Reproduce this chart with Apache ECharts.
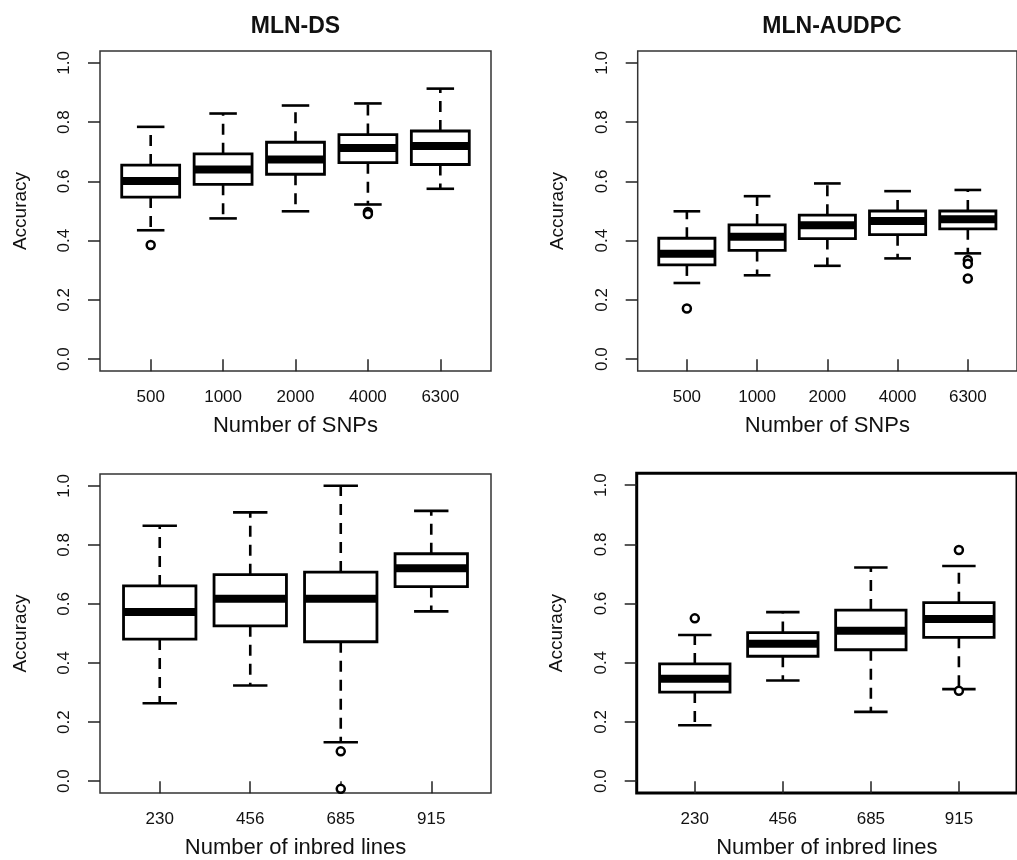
<!DOCTYPE html>
<html>
<head>
<meta charset="utf-8">
<script src="https://cdn.jsdelivr.net/npm/echarts@6.0.0/dist/echarts.min.js"></script>
<style>
html,body{margin:0;padding:0;background:#fff;}
#chart{width:1017px;height:860px;}
</style>
</head>
<body>
<div id="chart"></div>
<script>
// ---- data ----
const snpCats = ['500', '1000', '2000', '4000', '6300'];
const lineCats = ['230', '456', '685', '915'];
const yTicks = [0, 0.2, 0.4, 0.6, 0.8, 1.0];
// each box: [lower whisker, Q1, median, Q3, upper whisker]
const dsSnpStats = [
  [0.435, 0.547, 0.601, 0.655, 0.784],
  [0.475, 0.590, 0.640, 0.693, 0.829],
  [0.499, 0.624, 0.674, 0.732, 0.856],
  [0.522, 0.663, 0.713, 0.758, 0.863],
  [0.575, 0.657, 0.719, 0.770, 0.913]
];
const dsSnpOutliers = [[1, 0.385], [4, 0.497], [4, 0.490]];
const audpcSnpStats = [
  [0.257, 0.318, 0.356, 0.408, 0.499],
  [0.283, 0.367, 0.413, 0.453, 0.550],
  [0.315, 0.407, 0.452, 0.486, 0.593],
  [0.340, 0.420, 0.466, 0.500, 0.567],
  [0.357, 0.440, 0.472, 0.500, 0.571]
];
const audpcSnpOutliers = [[1, 0.171], [5, 0.335], [5, 0.322], [5, 0.272]];
const dsLineStats = [
  [0.264, 0.481, 0.573, 0.661, 0.865],
  [0.324, 0.526, 0.618, 0.699, 0.910],
  [0.132, 0.472, 0.618, 0.708, 1.000],
  [0.575, 0.659, 0.721, 0.770, 0.915]
];
const dsLineOutliers = [[3, 0.101], [3, -0.026]];
const audpcLineStats = [
  [0.189, 0.301, 0.346, 0.396, 0.494],
  [0.340, 0.422, 0.464, 0.502, 0.571],
  [0.234, 0.444, 0.508, 0.578, 0.722],
  [0.311, 0.486, 0.548, 0.603, 0.727]
];
const audpcLineOutliers = [[1, 0.550], [4, 0.781], [4, 0.305]];

const panelTitles = ['MLN-DS', 'MLN-AUDPC'];
const xTitles = ['Number of SNPs', 'Number of inbred lines'];
const yTitle = 'Accuracy';

// ---- layout ----
const FONT = 'Liberation Sans, Arial, sans-serif';
const INK = '#111';
const panels = [
  {grid: {left: 100, top: 51, width: 391, height: 320}, border: 1.5, bc: '#333', cats: snpCats, stats: dsSnpStats, out: dsSnpOutliers, xName: xTitles[0]},
  {grid: {left: 637.7, top: 51, width: 391, height: 320}, border: 1.5, bc: '#333', cats: snpCats, stats: audpcSnpStats, out: audpcSnpOutliers, xName: xTitles[0]},
  {grid: {left: 100, top: 474, width: 391, height: 321}, border: 1.5, bc: '#333', cats: lineCats, stats: dsLineStats, out: dsLineOutliers, xName: xTitles[1]},
  {grid: {left: 636.7, top: 473.3, width: 392, height: 321.7}, border: 3, bc: '#000', cats: lineCats, stats: audpcLineStats, out: audpcLineOutliers, xName: xTitles[1]}
];

const BOX_HALF = 0.4, STAPLE_HALF = 0.19;

function renderBox(params, api) {
  const x = api.value(0);
  const lo = api.value(1), q1 = api.value(2), med = api.value(3), q3 = api.value(4), hi = api.value(5);
  const tl = api.coord([x - BOX_HALF, q3]);
  const br = api.coord([x + BOX_HALF, q1]);
  const mL = api.coord([x - BOX_HALF, med]);
  const mR = api.coord([x + BOX_HALF, med]);
  const c3 = api.coord([x, q3]), cHi = api.coord([x, hi]);
  const c1 = api.coord([x, q1]), cLo = api.coord([x, lo]);
  const sHiL = api.coord([x - STAPLE_HALF, hi]), sHiR = api.coord([x + STAPLE_HALF, hi]);
  const sLoL = api.coord([x - STAPLE_HALF, lo]), sLoR = api.coord([x + STAPLE_HALF, lo]);
  const dashStyle = {stroke: '#000', lineWidth: 2.6, lineDash: [11, 8], fill: null};
  const solid = {stroke: '#000', lineWidth: 2.6, fill: null};
  return {
    type: 'group',
    children: [
      {type: 'line', shape: {x1: c3[0], y1: c3[1], x2: cHi[0], y2: cHi[1]}, style: dashStyle},
      {type: 'line', shape: {x1: c1[0], y1: c1[1], x2: cLo[0], y2: cLo[1]}, style: dashStyle},
      {type: 'line', shape: {x1: sHiL[0], y1: sHiL[1], x2: sHiR[0], y2: sHiR[1]}, style: solid},
      {type: 'line', shape: {x1: sLoL[0], y1: sLoL[1], x2: sLoR[0], y2: sLoR[1]}, style: solid},
      {type: 'rect', shape: {x: tl[0], y: tl[1], width: br[0] - tl[0], height: br[1] - tl[1]},
        style: {fill: '#fff', stroke: '#000', lineWidth: 2.8}},
      {type: 'line', shape: {x1: mL[0], y1: mL[1], x2: mR[0], y2: mR[1]}, style: {stroke: '#000', lineWidth: 8}}
    ]
  };
}

const option = {
  backgroundColor: '#fff',
  animation: false,
  grid: [], xAxis: [], yAxis: [], series: [],
  graphic: [
    {type: 'text', x: 295.5, y: 27, style: {text: panelTitles[0], font: 'bold 23px ' + FONT, fill: INK, textAlign: 'center', textVerticalAlign: 'middle'}},
    {type: 'text', x: 832, y: 27, style: {text: panelTitles[1], font: 'bold 23px ' + FONT, fill: INK, textAlign: 'center', textVerticalAlign: 'middle'}}
  ]
};

panels.forEach((p, i) => {
  const n = p.cats.length;
  const pad = 0.04 * n;
  option.grid.push(Object.assign({show: true, borderColor: p.bc, borderWidth: p.border, backgroundColor: 'transparent', containLabel: false}, p.grid));
  const xTickVals = p.cats.map((c, k) => k + 1);
  option.xAxis.push({
    type: 'value', gridIndex: i, min: 0.5 - pad, max: n + 0.5 + pad,
    splitLine: {show: false},
    axisLine: {show: false},
    axisTick: {show: true, inside: false, length: 12, customValues: xTickVals, lineStyle: {color: '#222', width: 1.5}},
    axisLabel: {show: true, customValues: xTickVals, margin: 18, fontSize: 17, fontFamily: FONT, color: INK,
      formatter: v => p.cats[Math.round(v) - 1]},
    name: p.xName, nameLocation: 'middle', nameGap: 44,
    nameTextStyle: {fontSize: 22, fontFamily: FONT, color: INK}
  });
  option.yAxis.push({
    type: 'value', gridIndex: i, min: -0.04, max: 1.04,
    splitLine: {show: false},
    axisLine: {show: false},
    axisTick: {show: true, inside: false, length: 12, customValues: yTicks, lineStyle: {color: '#222', width: 1.5}},
    axisLabel: {show: true, customValues: yTicks, rotate: 90, margin: 27, fontSize: 17, fontFamily: FONT, color: INK,
      formatter: v => v.toFixed(1)},
    name: yTitle, nameLocation: 'middle', nameRotate: 90, nameGap: 70,
    nameTextStyle: {fontSize: 19, fontFamily: FONT, color: INK}
  });
  option.series.push({
    type: 'custom', xAxisIndex: i, yAxisIndex: i, renderItem: renderBox,
    encode: {x: 0, y: [1, 2, 3, 4, 5]},
    data: p.stats.map((s, k) => [k + 1].concat(s)),
    silent: true
  });
  option.series.push({
    type: 'scatter', xAxisIndex: i, yAxisIndex: i,
    symbol: 'circle', symbolSize: 8,
    itemStyle: {color: '#fff', borderColor: '#000', borderWidth: 2.5, opacity: 1},
    data: p.out, silent: true, z: 5
  });
});

const chart = echarts.init(document.getElementById('chart'), null, {renderer: 'canvas'});
chart.setOption(option);
</script>
</body>
</html>
